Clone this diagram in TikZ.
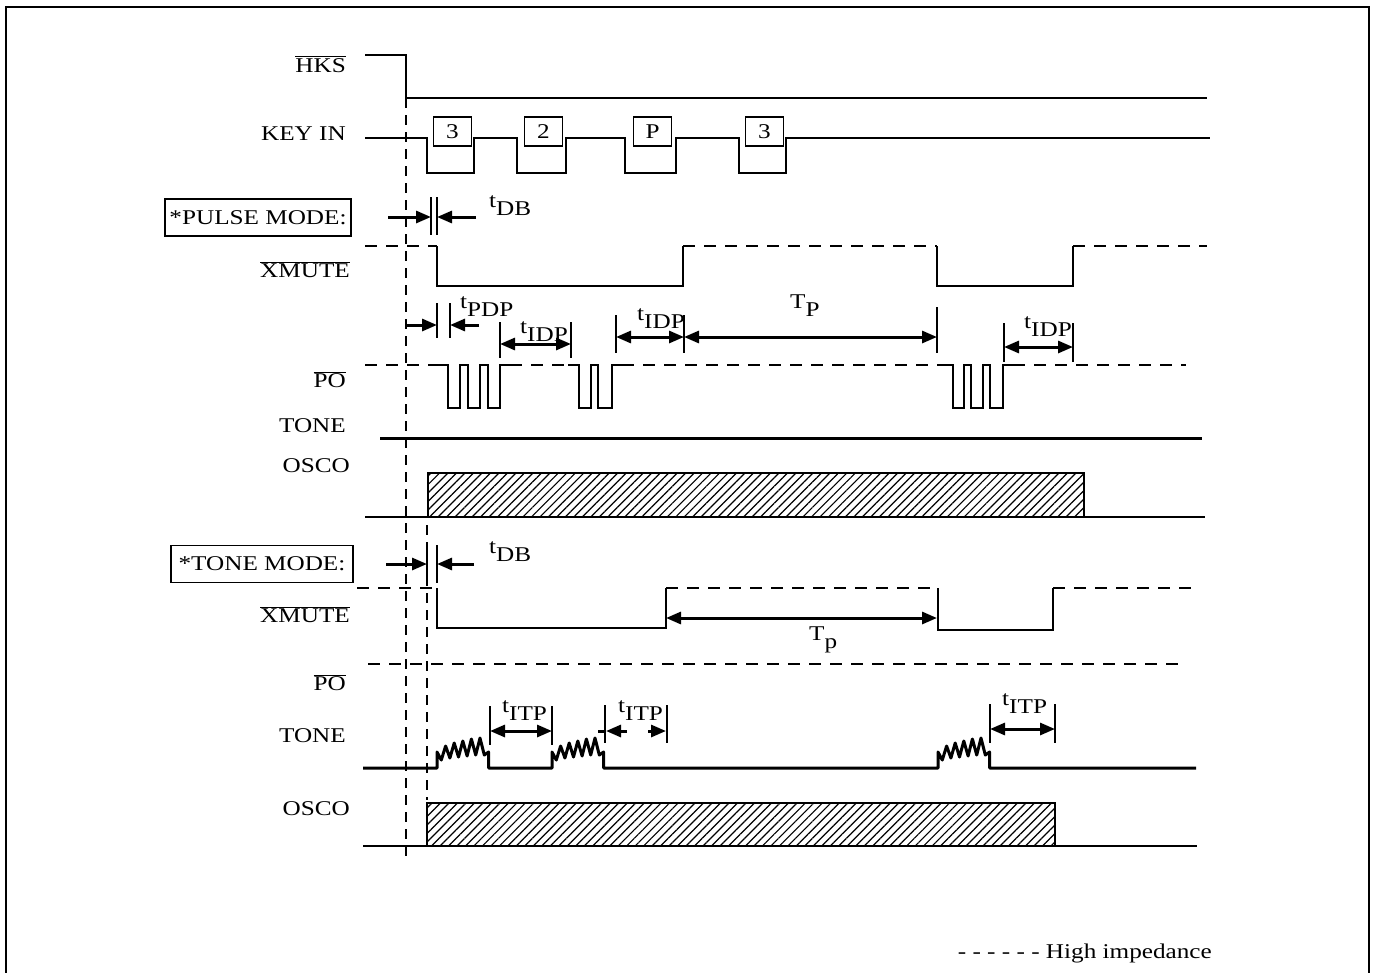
\documentclass[tikz,border=0pt]{standalone}
\usepackage{fontspec}
\setmainfont{Liberation Serif}[FakeStretch=1.2]
\usetikzlibrary{arrows.meta,patterns.meta}

\newcommand\ovl[1]{$\overline{\mbox{#1}}$}
\newcommand\tsb[2]{#1\raisebox{-8pt}{#2}}
% one burst of tone, drawn from the low line
\newcommand\wiggle{-- ++(0,-16) -- ++(4.3,8) -- ++(4.3,-14) -- ++(4.3,12) -- ++(4.3,-15) -- ++(4.3,14) -- ++(4.3,-16) -- ++(4.3,15) -- ++(4.3,-17) -- ++(4.3,16) -- ++(4.3,-17) -- ++(4.3,17) -- ++(4.3,-3) -- ++(0,16)}

\tikzset{
  sig/.style={line width=2pt},
  heavy/.style={line width=3pt},
  hiz/.style={line width=2pt, dash pattern=on 12pt off 9pt},
  guide/.style={line width=2pt, dash pattern=on 10pt off 7pt},
  tick/.style={line width=2.5pt},
  dim/.style={line width=3pt, {Triangle[length=15pt,width=12pt]}-{Triangle[length=15pt,width=12pt]}},
  half/.style={line width=3pt, -{Triangle[length=15pt,width=12pt]}},
  lbl/.style={anchor=base east, inner sep=0pt},
  tlbl/.style={anchor=base west, inner sep=0pt},
  keybox/.style={draw, line width=1.5pt, fill=white, minimum width=38pt, minimum height=29pt, inner sep=0pt},
  modebox/.style={draw, line width=1.5pt, fill=white, minimum width=#1, minimum height=37pt, inner xsep=4pt, inner ysep=0pt},
  osc/.style={draw, line width=2pt, pattern={Lines[angle=45,distance=6pt,line width=1.2pt]}},
}

\begin{document}
\begin{tikzpicture}[x=1pt,y=-1pt,font=\fontsize{21}{25}\selectfont]
\useasboundingbox (0,0) rectangle (1376,972);
\draw[line width=2.5pt] (6,990) -- (6,7) -- (1369,7) -- (1369,990);

% signal names
\node[lbl] (hks) at (346,72) {\ovl{HKS}};
\node[lbl] (keyin) at (346,140) {KEY IN};
\node[lbl] (xmuteP) at (350,277) {\ovl{XMUTE}};
\node[lbl] (poP) at (346,387) {\ovl{PO}};
\node[lbl] (toneP) at (346,432) {TONE};
\node[lbl] (oscoP) at (350,472) {OSCO};
\node[lbl] (xmuteT) at (350,622) {\ovl{XMUTE}};
\node[lbl] (poT) at (346,690) {\ovl{PO}};
\node[lbl] (toneT) at (346,742) {TONE};
\node[lbl] (oscoT) at (350,815) {OSCO};

\node[modebox=186pt] (pmode) at (258,217.5) {*PULSE MODE:};
\node[modebox=182pt] (tmode) at (262,564) {*TONE MODE:};

% HKS and keys
\draw[sig] (365,55) -- (406,55) -- (406,98) -- (1207,98);
\draw[sig] (365,138) foreach \a/\b in {427/474,517/566,625/676,739/786} { -- (\a,138) -- (\a,173) -- (\b,173) -- (\b,138) } -- (1210,138);
\foreach \a/\b/\k [count=\i] in {427/474/3,517/566/2,625/676/P,739/786/3}
  \node[keybox] (key\i) at ({(\a+\b)/2+2},131.5) {\k};

\draw[guide] (406,98) -- (406,856);
\draw[guide] (427,525) -- (427,800);

% pulse mode
\draw[hiz] (365,246) -- (437,246);
\draw[sig] (437,246) -- (437,286) -- (683,286) -- (683,246);
\draw[hiz] (683,246) -- (937,246);
\draw[sig] (937,246) -- (937,286) -- (1073,286) -- (1073,246);
\draw[hiz] (1073,246) -- (1207,246);

\draw[hiz] (365,365) -- (435,365);
\draw[sig] (435,365) foreach \a/\b in {448/460,468/480,488/500} { -- (\a,365) -- (\a,408) -- (\b,408) -- (\b,365) } -- (510,365);
\draw[hiz] (510,365) -- (568,365);
\draw[sig] (568,365) foreach \a/\b in {579/591,598/612} { -- (\a,365) -- (\a,408) -- (\b,408) -- (\b,365) } -- (622,365);
\draw[hiz] (622,365) -- (943,365);
\draw[sig] (943,365) foreach \a/\b in {953/964,971/983,990/1003} { -- (\a,365) -- (\a,408) -- (\b,408) -- (\b,365) } -- (1013,365);
\draw[hiz] (1013,365) -- (1186,365);

\draw[heavy] (380,438) -- (1202,438);

\draw[sig] (365,517) -- (428,517);
\draw[osc] (428,473) rectangle (1084,517);
\draw[sig] (1084,517) -- (1205,517);

% pulse mode timings
\draw[tick] (431,197) -- (431,235);
\draw[tick] (437,197) -- (437,235);
\coordinate (pdbL) at (388,217);
\coordinate (pdbR) at (476,217);
\draw[half] (pdbL) -- (431,217);
\draw[half] (pdbR) -- (437,217);
\node[tlbl] (pdb) at (489,207) {\tsb{t}{DB}};

\draw[tick] (437,303) -- (437,338);
\draw[tick] (450,303) -- (450,338);
\coordinate (pdpL) at (406,325);
\coordinate (pdpR) at (479,325);
\draw[half] (pdpL) -- (437,325);
\draw[half] (pdpR) -- (450,325);
\node[tlbl] (pdp) at (460,308) {\tsb{t}{PDP}};

\draw[tick] (500,322) -- (500,358);
\draw[tick] (571,322) -- (571,358);
\coordinate (idp1a) at (500,344);
\coordinate (idp1b) at (571,344);
\draw[dim] (idp1a) -- (idp1b);
\node[tlbl] (idp1) at (520,333) {\tsb{t}{IDP}};

\draw[tick] (616,315) -- (616,353);
\draw[tick] (684,315) -- (684,353);
\draw[tick] (937,307) -- (937,353);
\coordinate (idp2a) at (616,337);
\coordinate (idp2b) at (684,337);
\coordinate (tpb) at (937,337);
\draw[dim] (idp2a) -- (idp2b);
\draw[dim] (idp2b) -- (tpb);
\node[tlbl] (idp2) at (637,320) {\tsb{t}{IDP}};
\node[tlbl] (tpP) at (790,308) {\tsb{T}{P}};

\draw[tick] (1004,323) -- (1004,362);
\draw[tick] (1073,323) -- (1073,362);
\coordinate (idp3a) at (1004,347);
\coordinate (idp3b) at (1073,347);
\draw[dim] (idp3a) -- (idp3b);
\node[tlbl] (idp3) at (1024,328) {\tsb{t}{IDP}};

% tone mode
\draw[hiz] (357,588) -- (437,588);
\draw[sig] (437,588) -- (437,628) -- (666,628) -- (666,588);
\draw[hiz] (666,588) -- (938,588);
\draw[sig] (938,588) -- (938,630) -- (1053,630) -- (1053,588);
\draw[hiz] (1053,588) -- (1192,588);

\draw[hiz] (368,664) -- (1181,664);

\draw[heavy, line join=round] (363,768) -- (437,768) \wiggle -- (552,768) \wiggle -- (938,768) \wiggle -- (1196,768);

\draw[sig] (363,846) -- (427,846);
\draw[osc] (427,803) rectangle (1055,846);
\draw[sig] (1055,846) -- (1197,846);

% tone mode timings
\draw[tick] (427,545) -- (427,583);
\draw[tick] (437,545) -- (437,583);
\coordinate (tdbL) at (386,564);
\coordinate (tdbR) at (474,564);
\draw[half] (tdbL) -- (427,564);
\draw[half] (tdbR) -- (437,564);
\node[tlbl] (tdb) at (489,553) {\tsb{t}{DB}};

\coordinate (tpa) at (666,618);
\coordinate (tpc) at (937,618);
\draw[dim] (tpa) -- (tpc);
\node[tlbl] (tpT) at (809,640) {\tsb{T}{p}};

\draw[tick] (490,706) -- (490,745);
\draw[tick] (552,706) -- (552,745);
\coordinate (itp1a) at (490,731);
\coordinate (itp1b) at (552,731);
\draw[dim] (itp1a) -- (itp1b);
\node[tlbl] (itp1) at (502,712) {\tsb{t}{ITP}};

\draw[tick] (605,705) -- (605,743);
\draw[tick] (667,705) -- (667,743);
\draw[heavy] (598,731) -- (606,731);
\draw[half] (627,731) -- (606,731);
\draw[half] (648,731) -- (666,731);
\node[tlbl] (itp2) at (618,712) {\tsb{t}{ITP}};

\draw[tick] (990,704) -- (990,743);
\draw[tick] (1055,704) -- (1055,743);
\coordinate (itp3a) at (990,729);
\coordinate (itp3b) at (1055,729);
\draw[dim] (itp3a) -- (itp3b);
\node[tlbl] (itp3) at (1002,705) {\tsb{t}{ITP}};

\node[anchor=base east, inner sep=0pt] (legend) at (1212,958) {- - - - - - High impedance};
\end{tikzpicture}
\end{document}
